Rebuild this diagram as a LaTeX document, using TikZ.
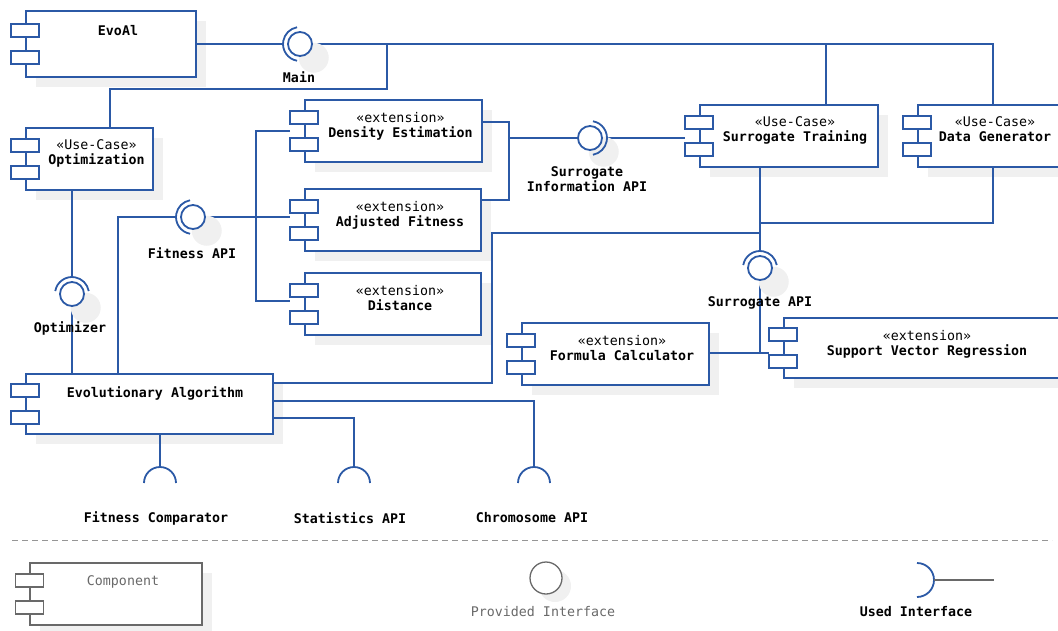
\documentclass[tikz,border=0pt]{standalone}
\usepackage{fontspec}
\setmainfont{DejaVu Sans Mono}
\usetikzlibrary{calc,shadows}
\definecolor{umlblue}{RGB}{43,89,166}
\definecolor{shade}{RGB}{240,240,240}
\definecolor{leggray}{RGB}{105,105,105}
\definecolor{dashgray}{RGB}{150,150,150}
\pgfdeclarelayer{front}
\pgfsetlayers{main,front}

\begin{document}
\begin{tikzpicture}[x=1pt, y=-1pt, line width=1.9pt,
	every node/.style={font=\fontsize{13.3}{15}\selectfont},
	comp/.style={draw=umlblue, fill=white, inner sep=0,
		drop shadow={shadow xshift=10pt, shadow yshift=-10pt, fill=shade, opacity=1}},
	port/.style={draw=umlblue, fill=white, line width=1.7pt},
	ctext/.style={anchor=north, align=center, inner sep=0},
	iface/.style={circle, draw=umlblue, fill=white, minimum size=24pt, inner sep=0, line width=1.8pt,
		drop shadow={shadow xshift=11pt, shadow yshift=-11pt, shadow scale=1.25, fill=shade, opacity=1}},
	lbl/.style={align=center, inner sep=0},
	iflabel/.style={lbl, font=\fontsize{13.3}{15}\selectfont\bfseries},
	wire/.style={draw=umlblue, line width=1.8pt}]
	\useasboundingbox (0,0) rectangle (1058,630);
	\clip (0,0) rectangle (1058,630);

	% components
	\node[comp, minimum width=170, minimum height=66] (evoal) at (111,44) {};
	\node[comp, minimum width=127, minimum height=62] (opt) at (89.5,159) {};
	\node[comp, minimum width=177, minimum height=62] (dens) at (393.5,131) {};
	\node[comp, minimum width=176, minimum height=62] (adj) at (393,220) {};
	\node[comp, minimum width=176, minimum height=62] (dist) at (393,304) {};
	\node[comp, minimum width=178, minimum height=62] (strain) at (789,136) {};
	\node[comp, minimum width=150, minimum height=62] (datagen) at (993,136) {};
	\node[comp, minimum width=187, minimum height=62] (form) at (615.5,354) {};
	\node[comp, minimum width=278, minimum height=60] (svr) at (923,348) {};
	\node[comp, minimum width=247, minimum height=60] (ea) at (149.5,404) {};
	\foreach \c in {evoal,opt,dens,adj,dist,strain,datagen,form,svr,ea} {
		\draw[port] ($(\c.west)+(-14,-20)$) rectangle ++(28,13);
		\draw[port] ($(\c.west)+(-14,7)$) rectangle ++(28,13);
	}
	\node[ctext] (evoal-t) at (118,24) {\textbf{EvoAl}};
	\node[ctext] (opt-t) at (96.5,139) {«Use-Case»\\\textbf{Optimization}};
	\node[ctext] (dens-t) at (400.5,111) {«extension»\\\textbf{Density Estimation}};
	\node[ctext] (adj-t) at (400,200) {«extension»\\\textbf{Adjusted Fitness}};
	\node[ctext] (dist-t) at (400,284) {«extension»\\\textbf{Distance}};
	\node[ctext] (strain-t) at (795,116) {«Use-Case»\\\textbf{Surrogate Training}};
	\node[ctext] (datagen-t) at (995,116) {«Use-Case»\\\textbf{Data Generator}};
	\node[ctext] (form-t) at (622,334) {«extension»\\\textbf{Formula Calculator}};
	\node[ctext] (svr-t) at (927,329) {«extension»\\\textbf{Support Vector Regression}};
	\node[ctext] (ea-t) at (155,386) {\textbf{Evolutionary Algorithm}};

	% provided interfaces
	\begin{pgfonlayer}{front}
	\node[iface] (mainif) at (300,44) {};
	\node[iface] (optif) at (72,294) {};
	\node[iface] (fitif) at (193,217) {};
	\node[iface] (siif) at (590,138) {};
	\node[iface] (sapi) at (760,268) {};
	\draw[wire] ($(mainif)+(100:17)$) arc[start angle=100, end angle=260, radius=17];
	\draw[wire] ($(optif)+(190:17)$) arc[start angle=190, end angle=350, radius=17];
	\draw[wire] ($(fitif)+(100:17)$) arc[start angle=100, end angle=260, radius=17];
	\draw[wire] ($(siif)+(-80:17)$) arc[start angle=-80, end angle=80, radius=17];
	\draw[wire] ($(sapi)+(190:17)$) arc[start angle=190, end angle=350, radius=17];
	\node[iflabel] (mainif-l) at (299,77) {Main};
	\node[iflabel] (optif-l) at (70,328) {Optimizer};
	\node[iflabel] (fitif-l) at (192,253) {Fitness API};
	\node[iflabel] (siif-l) at (587,179) {Surrogate\\Information API};
	\node[iflabel] (sapi-l) at (760,303) {Surrogate API};
	\end{pgfonlayer}

	% wires
	\draw[wire] (evoal.east) -- ($(mainif)+(-17,0)$);
	\draw[wire] (mainif.east) -| (datagen.north);
	\draw[wire] ($(strain.north)+(37,0)$) |- (mainif.east);
	\draw[wire] ($(opt.north)+(20.5,0)$) |- ($(mainif.east)+(74,45)$) -- ($(mainif.east)+(74,0)$);
	\draw[wire] (opt.south -| optif) -- ($(optif)+(0,-17)$);
	\draw[wire] (optif.south) -- (optif |- ea.north);
	\draw[wire] ($(fitif)+(-17,0)$) -| ($(ea.north)+(-31.5,0)$);
	\draw[wire] (fitif.east) -- ($(fitif.east -| adj.west)+(-14,0)$);
	\draw[wire] ($(dens.west)+(-14,0)$) -| ($(dist.west)+(-48,-3)$) -- ($(dist.west)+(-14,-3)$);
	\draw[wire] ($(dens.east)+(0,-9)$) -| ($(siif)+(-81,0)$) |- ($(adj.east)+(0,-20)$);
	\draw[wire] (siif.west) -- ($(siif)+(-81,0)$);
	\draw[wire] ($(siif)+(17,0)$) -- ($(siif -| strain.west)+(-14,0)$);
	\draw[wire] (strain.south -| sapi) -- ($(sapi)+(0,-17)$);
	\draw[wire] (datagen.south) |- ($(strain.south -| sapi)+(0,55)$);
	\draw[wire] ($(ea.east)+(0,-21)$) -| ($(sapi)+(-268,-35)$) -- ($(sapi)+(0,-35)$);
	\draw[wire] (sapi.south) |- ($(form.east -| svr.west)+(-14,-1)$);
	\draw[wire] ($(form.east)+(0,-1)$) -- ($(form.east -| sapi)+(0,-1)$);

	% used interfaces
	\coordinate (fcmp) at (160,467);
	\coordinate (statapi) at (354,467);
	\coordinate (chromapi) at (534,467);
	\foreach \u in {fcmp,statapi,chromapi}
		\draw[wire] ($(\u)+(-16,16)$) arc[start angle=180, end angle=360, radius=16];
	\draw[wire] (ea.south -| fcmp) -- (fcmp);
	\draw[wire] ($(ea.east)+(0,14)$) -| (statapi);
	\draw[wire] ($(ea.east)+(0,-3)$) -| (chromapi);
	\node[iflabel] (fcmp-l) at (156,518) {Fitness Comparator};
	\node[iflabel] (statapi-l) at (350,518) {Statistics API};
	\node[iflabel] (chromapi-l) at (532,518) {Chromosome API};

	% legend
	\draw[dashgray, line width=1pt, dash pattern=on 6pt off 4pt] (12,540) -- (1052,540);
	\node[comp, draw=leggray, line width=1.3pt, minimum width=172, minimum height=62] (legcomp) at (116,594) {};
	\foreach \dy in {-20,7}
		\draw[port, draw=leggray, line width=1.3pt] ($(legcomp.west)+(-14,\dy)$) rectangle ++(28,13);
	\node[ctext, text=leggray] (legcomp-t) at (123,575) {Component};
	\node[circle, draw=leggray, fill=white, line width=1.3pt, minimum size=32pt, inner sep=0,
		drop shadow={shadow xshift=9pt, shadow yshift=-8pt, fill=shade, opacity=1}] (legprov) at (546,578) {};
	\node[lbl, text=leggray] (legprov-l) at (543,612) {Provided Interface};
	\coordinate (legused) at (917,580);
	\draw[wire] ($(legused)+(0,-17)$) arc[start angle=-90, end angle=90, radius=17];
	\draw[leggray, line width=1.3pt] ($(legused)+(17,0)$) -- ++(60,0);
	\node[iflabel] (legused-l) at (916,612) {Used Interface};
\end{tikzpicture}
\end{document}
